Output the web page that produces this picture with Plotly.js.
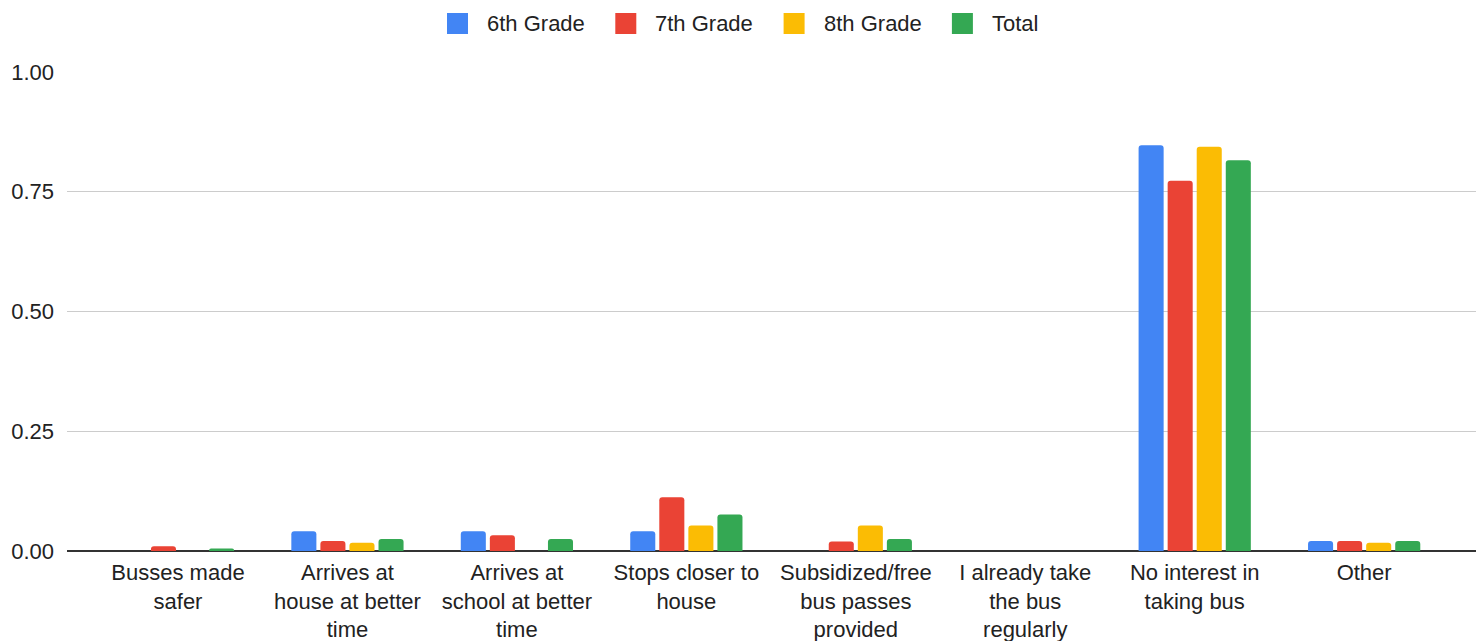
<!DOCTYPE html>
<html>
<head>
<meta charset="utf-8">
<script src="https://cdn.plot.ly/plotly-3.0.1.min.js"></script>
<style>
  html, body { margin: 0; padding: 0; background: #fff; }
  #chart { width: 1484px; height: 641px; }
</style>
</head>
<body>
<div id="chart"></div>
<script>
/* Grouped bar chart: reasons to take the bus, share by grade */
var categories = [
  "Busses made<br>safer",
  "Arrives at<br>house at better<br>time",
  "Arrives at<br>school at better<br>time",
  "Stops closer to<br>house",
  "Subsidized/free<br>bus passes<br>provided",
  "I already take<br>the bus<br>regularly",
  "No interest in<br>taking bus",
  "Other"
];
var seriesNames = ["6th Grade", "7th Grade", "8th Grade", "Total"];
var seriesColors = ["#4285f4", "#ea4335", "#fbbc04", "#34a853"];
var grade6 = [0, 0.041, 0.041, 0.041, 0, 0, 0.847, 0.021];
var grade7 = [0.010, 0.021, 0.033, 0.112, 0.020, 0, 0.773, 0.021];
var grade8 = [0, 0.017, 0, 0.053, 0.053, 0, 0.844, 0.017];
var total  = [0.005, 0.025, 0.025, 0.076, 0.025, 0, 0.816, 0.021];
var yTicks = [0, 0.25, 0.5, 0.75, 1];

(function () {
  "use strict";
  var FONT = "Liberation Sans, Arial, sans-serif";
  var W = 1484, H = 641, M = { l: 67, r: 8, t: 72, b: 90 };
  var values = [grade6, grade7, grade8, total];
  var idx = categories.map(function (c, i) { return i; });

  var traces = values.map(function (vals, i) {
    return {
      type: "bar", name: seriesNames[i],
      x: idx, y: vals,
      marker: { color: seriesColors[i], line: { width: 0 } },
      hoverinfo: "y+name", showlegend: false
    };
  });

  // legend drawn by hand (top, centred) so the swatches can be the large squares of the original
  function px(x) { return (x - M.l) / (W - M.l - M.r); }
  function py(y) { return (H - M.b - y) / (H - M.t - M.b); }
  var shapes = [], annotations = [];
  seriesNames.forEach(function (name, i) {
    var x0 = 447 + i * 168.3;
    shapes.push({
      type: "rect", xref: "paper", yref: "paper",
      x0: px(x0), x1: px(x0 + 21), y0: py(34), y1: py(13),
      fillcolor: seriesColors[i], line: { width: 0 }
    });
    annotations.push({
      xref: "paper", yref: "paper", x: px(x0 + 38), y: py(24),
      xanchor: "left", yanchor: "middle", showarrow: false,
      text: name, font: { family: FONT, size: 22, color: "#222" }
    });
  });

  var layout = {
    width: W, height: H, margin: M,
    font: { family: FONT, size: 22, color: "#222" },
    paper_bgcolor: "#fff", plot_bgcolor: "#fff",
    barmode: "group", bargap: 0.314, bargroupgap: 0.138, barcornerradius: 3,
    showlegend: false, shapes: shapes, annotations: annotations,
    xaxis: {
      range: [-0.655, 7.66], tickmode: "array", tickvals: idx, ticktext: categories,
      showgrid: false, zeroline: false, showline: false, ticks: "",
      ticklabelstandoff: 6,
      tickfont: { family: FONT, size: 22, color: "#222" }, fixedrange: true
    },
    yaxis: {
      range: [0, 1], tickmode: "array", tickvals: yTicks, tickformat: ".2f",
      showgrid: true, gridcolor: "#cccccc", gridwidth: 1,
      zeroline: true, zerolinecolor: "#333333", zerolinewidth: 2,
      showline: false, ticks: "", ticklabelstandoff: 12,
      tickfont: { family: FONT, size: 22, color: "#222" }, fixedrange: true
    }
  };

  Plotly.newPlot("chart", traces, layout, { displayModeBar: false, staticPlot: true });
})();
</script>
</body>
</html>
